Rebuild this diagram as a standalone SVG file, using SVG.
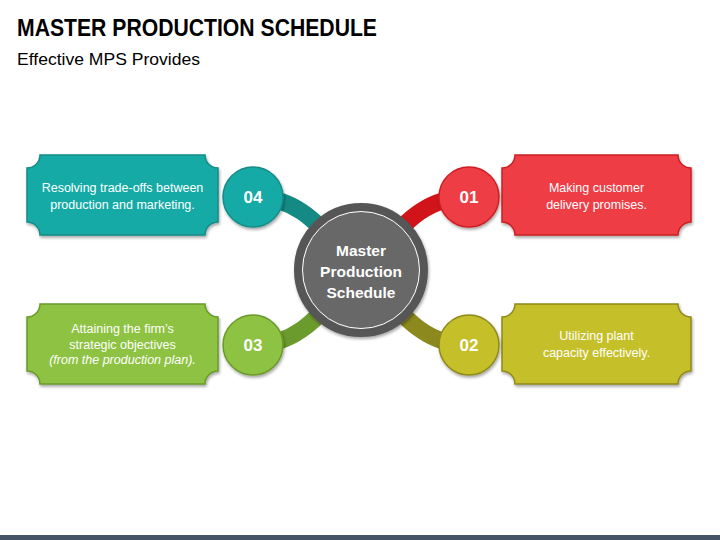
<svg xmlns="http://www.w3.org/2000/svg" width="720" height="540" viewBox="0 0 720 540">
<defs>
<filter id="sh" x="-10%" y="-10%" width="125%" height="130%">
<feDropShadow dx="1" dy="2" stdDeviation="1.5" flood-color="#000" flood-opacity="0.35"/>
</filter>
</defs>
<style>
.t{font-family:"Liberation Sans",Arial,sans-serif;fill:#000}
.bx{font-family:"Liberation Sans",Arial,sans-serif;font-size:12.5px;fill:#fff;text-anchor:middle}
.num{font-family:"Liberation Sans",Arial,sans-serif;font-size:17px;font-weight:bold;fill:#fff;text-anchor:middle}
.ctr{font-family:"Liberation Sans",Arial,sans-serif;font-size:15.5px;font-weight:bold;fill:#fff;text-anchor:middle}
.con{fill:none;stroke-width:17}
.box{stroke-width:1.5;filter:url(#sh)}
.cir{stroke-width:1.5;filter:url(#sh)}
</style>
<rect width="720" height="540" fill="#fff"/>
<text class="t" x="17" y="36" font-size="23" font-weight="bold" textLength="360" lengthAdjust="spacingAndGlyphs">MASTER PRODUCTION SCHEDULE</text>
<text class="t" x="17" y="65" font-size="17" textLength="183" lengthAdjust="spacingAndGlyphs">Effective MPS Provides</text>

<g id="connectors">
<path class="con" stroke="#158a85" d="M361 270 C322 230 302 197 253 197"/>
<path class="con" stroke="#d0141a" d="M361 270 C400 230 420 197 469 197"/>
<path class="con" stroke="#8c8a1e" d="M361 270 C400 310 420 345 469 345"/>
<path class="con" stroke="#6b9a2d" d="M361 270 C322 310 302 345 253 345"/>
</g>

<g id="center">
<circle cx="361" cy="270" r="63" fill="#676767" stroke="#575757" stroke-width="8" filter="url(#sh)"/>
<circle cx="361" cy="270" r="58.5" fill="none" stroke="#fff" stroke-width="1"/>
<text class="ctr" x="361" y="256">Master</text>
<text class="ctr" x="361" y="277">Production</text>
<text class="ctr" x="361" y="298">Schedule</text>
</g>

<g id="item04">
<path class="box" fill="#19aaa6" stroke="#138c88" d="M40 155 H205 A13 13 0 0 0 218 168 V222 A13 13 0 0 0 205 235 H40 A13 13 0 0 0 27 222 V168 A13 13 0 0 0 40 155 Z"/>
<text class="bx" x="122.5" y="191.5">Resolving trade-offs between</text>
<text class="bx" x="122.5" y="208.5">production and marketing.</text>
<circle class="cir" cx="253" cy="197" r="30" fill="#19aaa6" stroke="#138c88"/>
<text class="num" x="253" y="203">04</text>
</g>

<g id="item01">
<path class="box" fill="#ef3e45" stroke="#cc1f24" d="M515 155 H678 A13 13 0 0 0 691 168 V222 A13 13 0 0 0 678 235 H515 A13 13 0 0 0 502 222 V168 A13 13 0 0 0 515 155 Z"/>
<text class="bx" x="596.5" y="191.5">Making customer</text>
<text class="bx" x="596.5" y="208.5">delivery promises.</text>
<circle class="cir" cx="469" cy="197" r="30" fill="#ef3e45" stroke="#cc1f24"/>
<text class="num" x="469" y="203">01</text>
</g>

<g id="item02">
<path class="box" fill="#c5bf29" stroke="#8e8a1c" d="M515 304 H678 A13 13 0 0 0 691 317 V371 A13 13 0 0 0 678 384 H515 A13 13 0 0 0 502 371 V317 A13 13 0 0 0 515 304 Z"/>
<text class="bx" x="596.5" y="340">Utilizing plant</text>
<text class="bx" x="596.5" y="357">capacity effectively.</text>
<circle class="cir" cx="469" cy="345" r="30" fill="#c5bf29" stroke="#8e8a1c"/>
<text class="num" x="469" y="351">02</text>
</g>

<g id="item03">
<path class="box" fill="#8dc242" stroke="#6a9a2c" d="M40 304 H205 A13 13 0 0 0 218 317 V371 A13 13 0 0 0 205 384 H40 A13 13 0 0 0 27 371 V317 A13 13 0 0 0 40 304 Z"/>
<text class="bx" x="122.5" y="333">Attaining the firm’s</text>
<text class="bx" x="122.5" y="349">strategic objectives</text>
<text class="bx" x="122.5" y="363.5" font-size="10.5" font-style="italic">(from the production plan).</text>
<circle class="cir" cx="253" cy="345" r="30" fill="#8dc242" stroke="#6a9a2c"/>
<text class="num" x="253" y="351">03</text>
</g>

<rect x="0" y="535" width="720" height="5" fill="#465468"/>
</svg>
